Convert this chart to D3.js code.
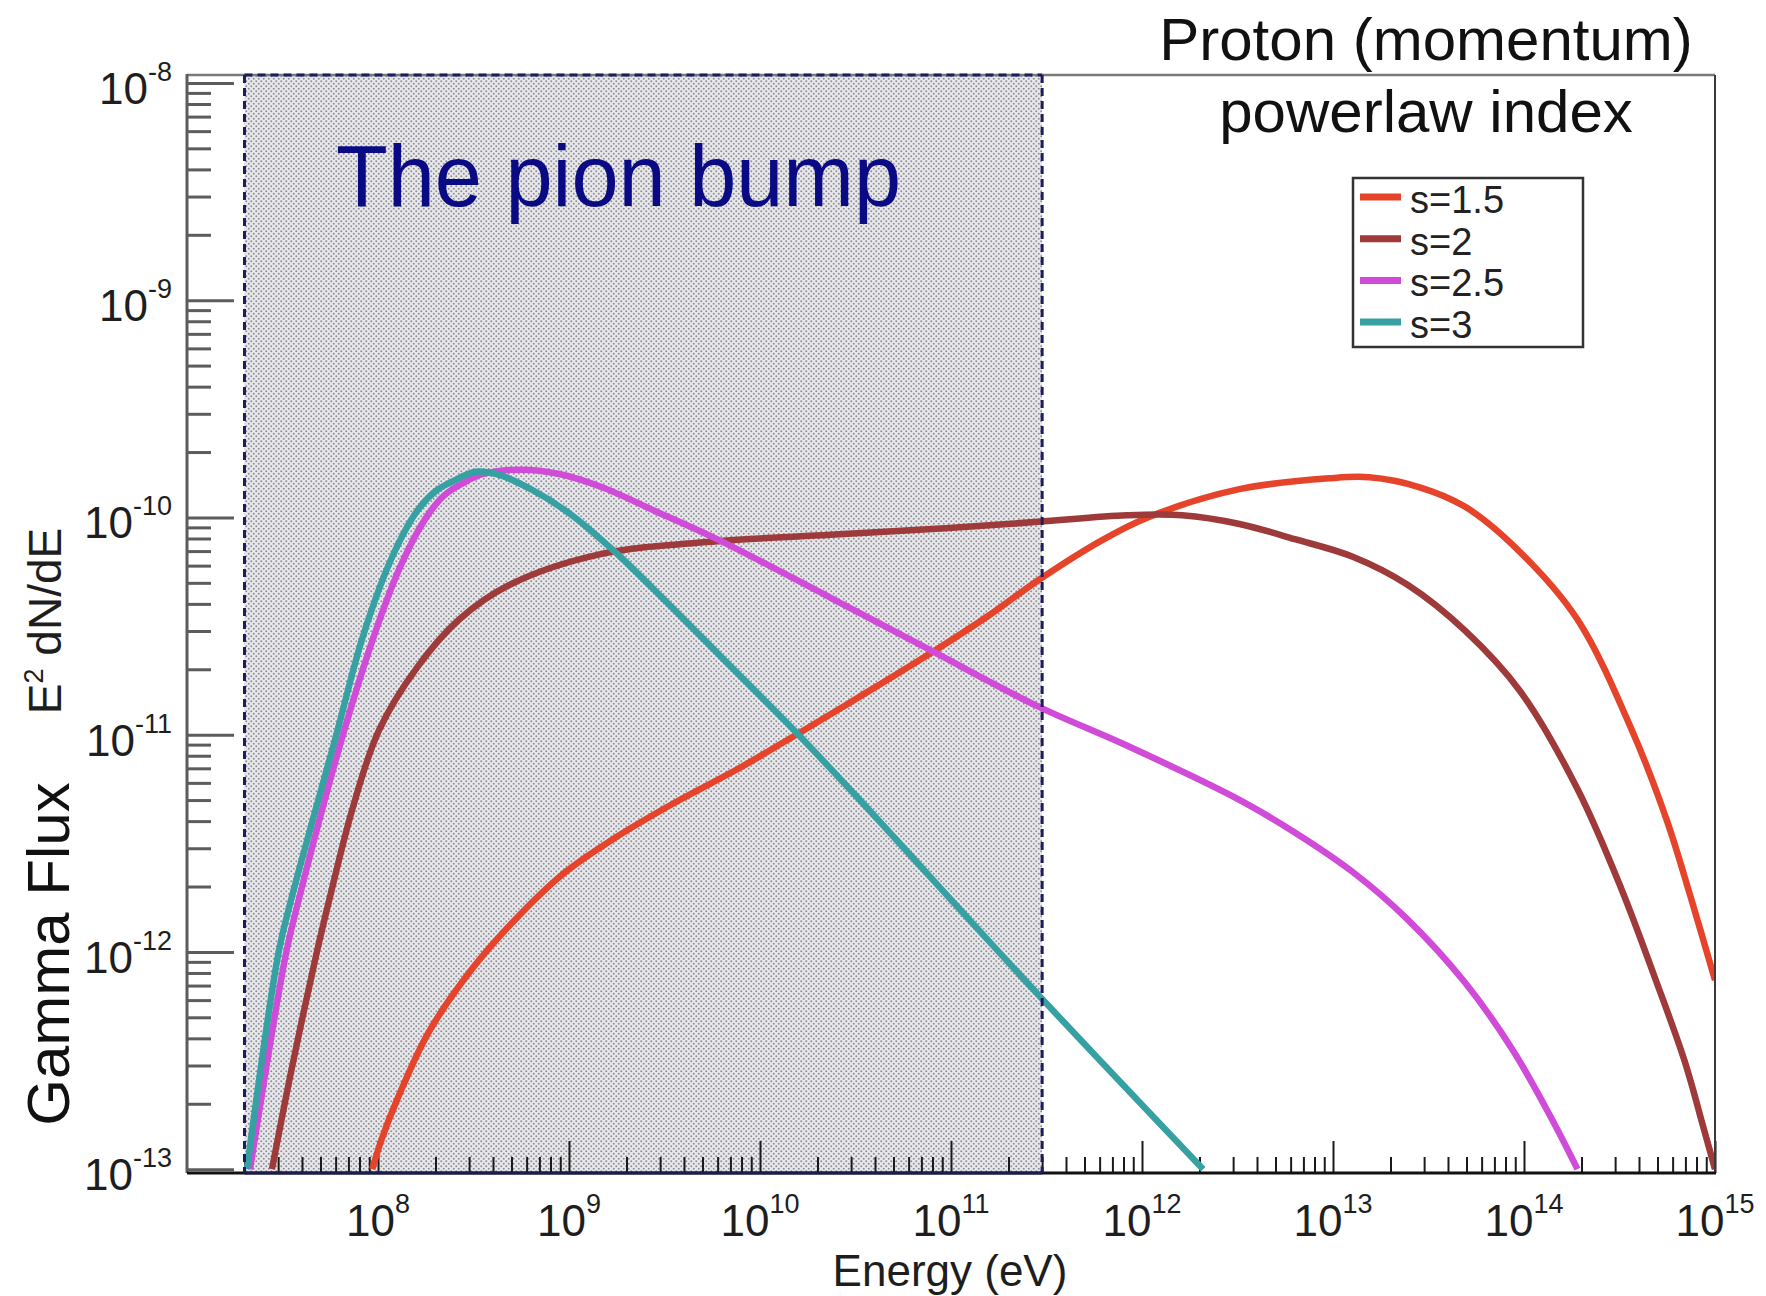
<!DOCTYPE html>
<html>
<head>
<meta charset="utf-8">
<script src="https://cdn.jsdelivr.net/npm/d3@7"></script>
<style>
  body { margin: 0; background: #ffffff; }
  svg { display: block; }
  text { font-family: "Liberation Sans", Arial, Helvetica, sans-serif; }
</style>
</head>
<body>
<svg id="chart" width="1766" height="1296"></svg>
<script>
// ---------------- DATA (log10 values) ----------------
const seriesNames  = ["s=1.5", "s=2", "s=2.5", "s=3"];
const seriesColors = ["#e5432a", "#9e3a3a", "#d04cd8", "#36a0a2"];

// s = 1.5 (red)
const logE_s15 = [7.97, 8.02, 8.10, 8.265, 8.50, 8.73, 8.97, 9.25, 9.56, 9.90, 10.19, 10.55, 10.92, 11.20, 11.455, 11.78, 12.03, 12.51, 12.98, 13.19, 13.45, 13.69, 13.98, 14.28, 14.57, 14.75, 14.87, 15.0];
const logF_s15 = [-13.0, -12.86, -12.68, -12.37, -12.07, -11.84, -11.64, -11.47, -11.31, -11.15, -11.00, -10.81, -10.61, -10.45, -10.29, -10.11, -10.00, -9.87, -9.82, -9.815, -9.86, -9.95, -10.16, -10.47, -10.99, -11.40, -11.74, -12.13];

// s = 2 (brown)
const logE_s2 = [7.445, 7.55, 7.68, 7.745, 7.87, 8.005, 8.205, 8.425, 8.69, 9.16, 9.775, 10.37, 10.97, 11.455, 11.92, 12.21, 12.51, 12.80, 13.10, 13.39, 13.69, 13.98, 14.28, 14.51, 14.69, 14.84, 14.94, 15.0];
const logF_s2 = [-13.0, -12.53, -12.0, -11.76, -11.33, -10.98, -10.69, -10.47, -10.31, -10.17, -10.11, -10.08, -10.05, -10.02, -9.99, -9.99, -10.03, -10.10, -10.18, -10.31, -10.52, -10.80, -11.25, -11.71, -12.13, -12.50, -12.81, -13.0];

// s = 2.5 (magenta)
const logE_s25 = [7.33, 7.52, 7.585, 7.82, 7.985, 8.115, 8.245, 8.345, 8.45, 8.55, 8.75, 8.95, 9.17, 9.45, 9.775, 10.37, 10.89, 11.455, 11.92, 12.51, 12.80, 13.10, 13.39, 13.69, 13.94, 14.14, 14.28];
const logF_s25 = [-13.0, -12.0, -11.76, -10.99, -10.53, -10.23, -10.01, -9.90, -9.84, -9.80, -9.78, -9.80, -9.86, -9.97, -10.10, -10.37, -10.61, -10.87, -11.05, -11.30, -11.45, -11.63, -11.85, -12.14, -12.45, -12.76, -13.0];

// s = 3 (teal)
const logE_s3 = [7.314, 7.48, 7.545, 7.785, 7.92, 8.07, 8.205, 8.30, 8.40, 8.51, 8.62, 8.80, 9.00, 9.23, 9.50, 9.80, 10.19, 10.49, 11.46, 12.32];
const logF_s3 = [-13.0, -12.0, -11.76, -10.99, -10.55, -10.19, -9.97, -9.88, -9.83, -9.79, -9.80, -9.87, -9.98, -10.15, -10.38, -10.645, -10.99, -11.27, -12.20, -13.0];

const xTickExponents = [8, 9, 10, 11, 12, 13, 14, 15];
const yTickExponents = [-8, -9, -10, -11, -12, -13];
const pionBumpRange  = [2e7, 3e11];

const titleLines = ["Proton (momentum)", "powerlaw index"];
const annotation = "The pion bump";

// ---------------- SETUP ----------------
const svg = d3.select("#chart");
const x = d3.scaleLog().domain([1e7, 1e15]).range([187, 1715]);
const y = d3.scaleLog().domain([9.6e-14, 1.088e-8]).range([1173, 75]);
const [xL, xR] = x.range();
const [yB, yT] = y.range();

// pattern for shaded region
const defs = svg.append("defs");
const pat = defs.append("pattern").attr("id", "dots")
  .attr("patternUnits", "userSpaceOnUse").attr("width", 5).attr("height", 5);
pat.append("rect").attr("width", 5).attr("height", 5).attr("fill", "#e9e9eb");
pat.append("circle").attr("cx", 1.25).attr("cy", 1.25).attr("r", 1.0).attr("fill", "#8e8e9a");
pat.append("circle").attr("cx", 3.75).attr("cy", 3.75).attr("r", 1.0).attr("fill", "#8e8e9a");

defs.append("clipPath").attr("id", "plotClip").append("rect")
  .attr("x", xL).attr("y", yT).attr("width", xR - xL).attr("height", yB - yT);

// shaded region
const sx0 = x(pionBumpRange[0]), sx1 = x(pionBumpRange[1]);
svg.append("rect").attr("x", sx0).attr("y", yT)
  .attr("width", sx1 - sx0).attr("height", yB - yT)
  .attr("fill", "url(#dots)");

// ---------------- TICKS ----------------
const yMinor = [];
for (let e = -13; e <= -9; e++) for (let k = 2; k <= 9; k++) yMinor.push(k * Math.pow(10, e));
const yMajor = yTickExponents.map(e => Math.pow(10, e));
const xMinor = [];
for (let e = 7; e <= 14; e++) for (let k = 2; k <= 9; k++) xMinor.push(k * Math.pow(10, e));
const xMajor = xTickExponents.map(e => Math.pow(10, e));

function styleTicks(g, color, width) {
  g.select(".domain").remove();
  g.selectAll(".tick line").attr("stroke", color).attr("stroke-width", width);
  g.selectAll(".tick text").remove();
}

svg.append("g").attr("transform", `translate(${xL},0)`)
  .call(d3.axisRight(y).tickValues(yMinor).tickSize(24).tickFormat(""))
  .call(g => styleTicks(g, "#5c5c5c", 3));
svg.append("g").attr("transform", `translate(${xL},0)`)
  .call(d3.axisRight(y).tickValues(yMajor).tickSize(47).tickFormat(""))
  .call(g => styleTicks(g, "#5c5c5c", 3));

svg.append("g").attr("transform", `translate(0,${yB})`)
  .call(d3.axisTop(x).tickValues(xMinor).tickSize(16).tickFormat(""))
  .call(g => styleTicks(g, "#1a1a1a", 2));
svg.append("g").attr("transform", `translate(0,${yB})`)
  .call(d3.axisTop(x).tickValues(xMajor).tickSize(32).tickFormat(""))
  .call(g => styleTicks(g, "#1a1a1a", 2));

// ---------------- CURVES ----------------
const seriesData = [
  d3.zip(logE_s15, logF_s15),
  d3.zip(logE_s2, logF_s2),
  d3.zip(logE_s25, logF_s25),
  d3.zip(logE_s3, logF_s3)
];
const line = d3.line()
  .x(d => x(Math.pow(10, d[0])))
  .y(d => y(Math.pow(10, d[1])))
  .curve(d3.curveCatmullRom.alpha(0.5));

const curves = svg.append("g").attr("clip-path", "url(#plotClip)");
seriesData.forEach((d, i) => {
  curves.append("path").datum(d)
    .attr("d", line).attr("fill", "none")
    .attr("stroke", seriesColors[i]).attr("stroke-width", 6.5)
    .attr("stroke-linejoin", "round").attr("stroke-linecap", "butt");
});

// ---------------- FRAME ----------------
svg.append("line").attr("x1", xL).attr("x2", xR).attr("y1", yT).attr("y2", yT)
  .attr("stroke", "#7a7a7a").attr("stroke-width", 2.5);
svg.append("line").attr("x1", xR).attr("x2", xR).attr("y1", yT).attr("y2", yB)
  .attr("stroke", "#3a3a3a").attr("stroke-width", 2);
svg.append("line").attr("x1", xL).attr("x2", xL).attr("y1", yT - 1).attr("y2", yB)
  .attr("stroke", "#5c5c5c").attr("stroke-width", 3);
svg.append("line").attr("x1", xL).attr("x2", xR + 1).attr("y1", yB).attr("y2", yB)
  .attr("stroke", "#111111").attr("stroke-width", 3);

// dashed outline of shaded region
const dashStyle = s => s.attr("stroke", "#1c1c5e").attr("stroke-width", 3)
  .attr("stroke-dasharray", "8,5").attr("fill", "none");
svg.append("line").attr("x1", sx0).attr("x2", sx0).attr("y1", yT).attr("y2", yB).call(dashStyle);
svg.append("line").attr("x1", sx1).attr("x2", sx1).attr("y1", yT).attr("y2", yB).call(dashStyle);
svg.append("line").attr("x1", sx0).attr("x2", sx1).attr("y1", yT).attr("y2", yT).call(dashStyle);
svg.append("line").attr("x1", sx0).attr("x2", sx1).attr("y1", yB).attr("y2", yB)
  .attr("stroke", "#1c1c4e").attr("stroke-width", 3);

// ---------------- TICK LABELS ----------------
const xLab = svg.append("g");
xTickExponents.forEach(e => {
  const t = xLab.append("text").attr("x", x(Math.pow(10, e))).attr("y", 1236)
    .attr("text-anchor", "middle").attr("fill", "#1e1e1e").attr("font-size", 44);
  t.append("tspan").text("10");
  t.append("tspan").attr("dy", -23).attr("font-size", 27).text(String(e));
});
const yLab = svg.append("g");
yTickExponents.forEach(e => {
  const t = yLab.append("text").attr("x", 172).attr("y", y(Math.pow(10, e)) + 21)
    .attr("text-anchor", "end").attr("fill", "#1e1e1e").attr("font-size", 44);
  t.append("tspan").text("10");
  t.append("tspan").attr("dy", -23).attr("font-size", 27).text(String(e));
});

// ---------------- AXIS TITLES ----------------
svg.append("text").attr("x", 950).attr("y", 1286).attr("text-anchor", "middle")
  .attr("font-size", 44).attr("fill", "#1e1e1e").text("Energy (eV)");

const yt1 = svg.append("text").attr("transform", "translate(61,621) rotate(-90)")
  .attr("text-anchor", "middle").attr("font-size", 46).attr("fill", "#1e1e1e");
yt1.append("tspan").text("E");
yt1.append("tspan").attr("dy", -18).attr("font-size", 27).text("2");
yt1.append("tspan").attr("dy", 18).text(" dN/dE");

svg.append("text").attr("transform", "translate(69,954) rotate(-90)")
  .attr("text-anchor", "middle").attr("font-size", 60).attr("fill", "#111")
  .text("Gamma Flux");

// ---------------- TITLE ----------------
svg.append("text").attr("x", 1426).attr("y", 60).attr("text-anchor", "middle")
  .attr("font-size", 60).attr("fill", "#111").text(titleLines[0]);
svg.append("text").attr("x", 1426).attr("y", 132).attr("text-anchor", "middle")
  .attr("font-size", 60).attr("fill", "#111").text(titleLines[1]);

// ---------------- ANNOTATION ----------------
svg.append("text").attr("x", 336).attr("y", 206)
  .attr("font-family", "'Comic Sans MS', 'Comic Neue', 'DejaVu Sans', sans-serif")
  .attr("font-size", 88).attr("fill", "#0a0a85")
  .attr("textLength", 565).attr("lengthAdjust", "spacingAndGlyphs")
  .text(annotation);

// ---------------- LEGEND ----------------
const leg = svg.append("g").attr("transform", "translate(1353,178)");
leg.append("rect").attr("width", 230).attr("height", 169)
  .attr("fill", "#ffffff").attr("stroke", "#333").attr("stroke-width", 2.5);
seriesNames.forEach((n, i) => {
  const cy = 19 + i * 41.7;
  leg.append("line").attr("x1", 7).attr("x2", 48).attr("y1", cy).attr("y2", cy)
    .attr("stroke", seriesColors[i]).attr("stroke-width", 7);
  leg.append("text").attr("x", 57).attr("y", cy + 16)
    .attr("font-size", 38).attr("fill", "#222").text(n);
});
</script>
</body>
</html>
